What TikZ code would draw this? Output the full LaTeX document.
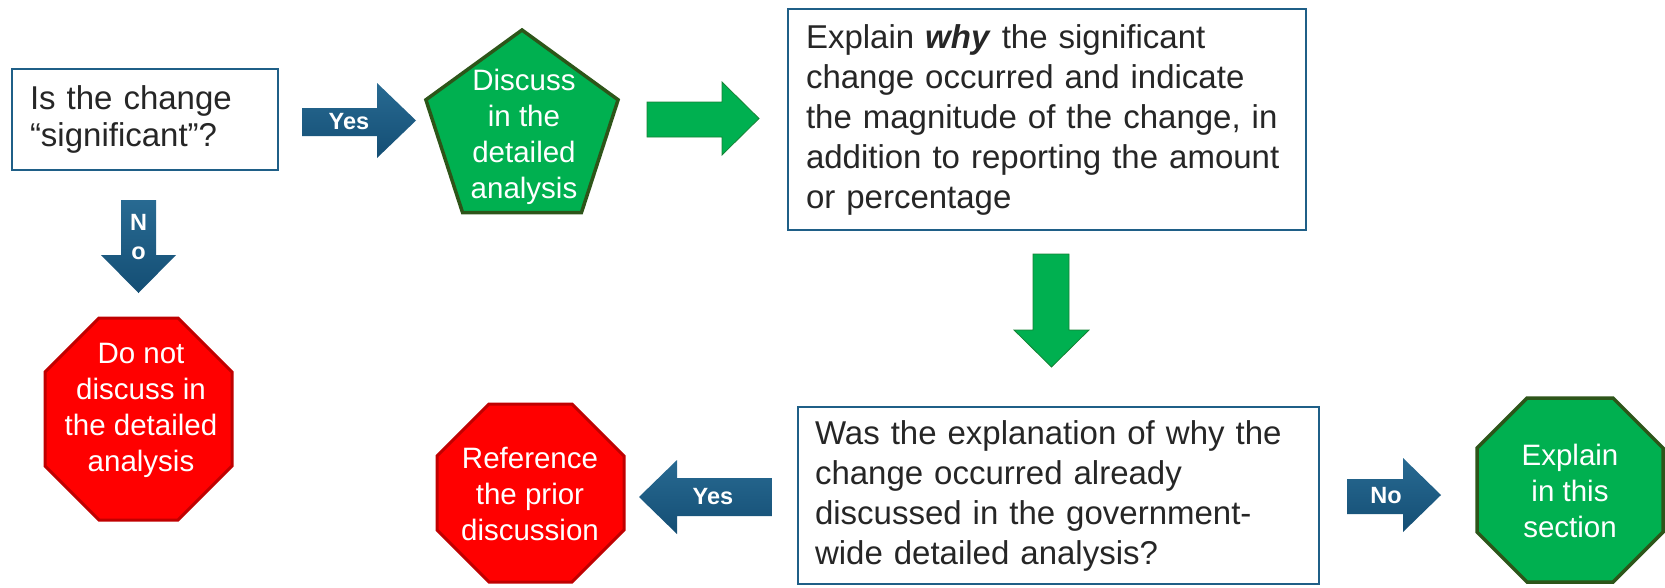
\documentclass[tikz,border=0pt]{standalone}
\usepackage{fontspec}
\setmainfont{Liberation Sans}
\definecolor{boxblue}{RGB}{31,95,135}
\definecolor{txt}{RGB}{38,38,38}
\definecolor{bluetop}{RGB}{40,106,146}
\definecolor{bluebot}{RGB}{20,78,116}
\definecolor{grfill}{RGB}{0,176,80}
\definecolor{grborder}{RGB}{45,85,25}
\definecolor{redfill}{RGB}{255,0,0}
\definecolor{redborder}{RGB}{192,0,0}
\newcommand{\myoct}[6]{\path[#6] ({#1-#3+#5},{#2-#4}) -- ({#1+#3-#5},{#2-#4}) -- ({#1+#3},{#2-#4+#5}) -- ({#1+#3},{#2+#4-#5}) -- ({#1+#3-#5},{#2+#4}) -- ({#1-#3+#5},{#2+#4}) -- ({#1-#3},{#2+#4-#5}) -- ({#1-#3},{#2-#4+#5}) -- cycle;}
\begin{document}
\begin{tikzpicture}[x=1pt,y=-1pt,
  qbox/.style={draw=boxblue, line width=2.6pt, fill=white, text=txt, align=left, inner ysep=0pt, font=\fontsize{33}{40}\selectfont},
  shapetxt/.style={text=white, align=center, font=\fontsize{29.5}{36}\selectfont, inner sep=0pt},
  lbl/.style={text=white, font=\bfseries\fontsize{23.5}{28}\selectfont, inner sep=0pt},
  blueshade/.style={top color=bluetop, bottom color=bluebot, draw=none},
  greenarrow/.style={fill=grfill, draw=grborder!50!grfill, line width=0.8pt},
  redoct/.style={fill=redfill, draw=redborder, line width=3pt},
  greenshape/.style={fill=grfill, draw=grborder, line width=3.5pt}]
\useasboundingbox (0,0) rectangle (1665,587);

% question boxes
\node[qbox, minimum width=266pt, minimum height=101pt, text width=230pt, inner xsep=18pt,
      font=\fontsize{33}{37}\selectfont] (q1) at (145,119.5) {Is the change\\“significant”?};
\node[qbox, minimum width=518pt, minimum height=221pt, text width=482pt, inner xsep=18pt] (q2) at (1047,119.5)
  {Explain \textbf{\textit{why}} the significant\\change occurred and indicate\\the magnitude of the change, in\\addition to reporting the amount\\or percentage};
\node[qbox, minimum width=521pt, minimum height=177pt, text width=487pt, inner xsep=17pt] (q3) at (1058.5,495.5)
  {Was the explanation of why the\\change occurred already\\discussed in the government-\\wide detailed analysis?};

% pentagon
\path[greenshape, line join=miter] (522,30) -- (618.1,99.8) -- (581.4,212.7) -- (462.6,212.7) -- (425.9,99.8) -- cycle;
\node[shapetxt] (pent) at (524,137) {Discuss\\in the\\detailed\\analysis};

% octagons
\myoct{138.5}{419}{93.5}{101}{54}{redoct}
\node[shapetxt] (stop1) at (141,410) {Do not\\discuss in\\the detailed\\analysis};
\myoct{530.5}{493}{93.5}{89}{52}{redoct}
\node[shapetxt] (stop2) at (530,494) {Reference\\the prior\\discussion};
\myoct{1570}{490}{93}{92}{50}{greenshape}
\node[shapetxt] (go) at (1570,491) {Explain\\in this\\section};

% block arrows
\path[blueshade] (302,108) -- (377,108) -- (377,83) -- (416,120.5) -- (377,158) -- (377,136) -- (302,136) -- cycle;
\node[lbl] (yes1) at (349,122) {Yes};

\path[blueshade] (121,200) -- (156,200) -- (156,255) -- (176,255) -- (138.5,293) -- (101,255) -- (121,255) -- cycle;
\node[lbl] (no1a) at (138.5,222) {N};
\node[lbl] (no1b) at (138.5,253) {o};

\path[greenarrow] (647,102) -- (722,102) -- (722,82) -- (759,118.5) -- (722,155) -- (722,137) -- (647,137) -- cycle;

\path[greenarrow] (1033,254) -- (1069,254) -- (1069,330) -- (1089,330) -- (1051.5,367) -- (1014,330) -- (1033,330) -- cycle;

\path[blueshade] (772,478) -- (677,478) -- (677,460) -- (639,497) -- (677,534) -- (677,516) -- (772,516) -- cycle;
\node[lbl] (yes2) at (713,497) {Yes};

\path[blueshade] (1347,479) -- (1403,479) -- (1403,458) -- (1441,495) -- (1403,532) -- (1403,514) -- (1347,514) -- cycle;
\node[lbl] (no2) at (1386,496) {No};
\end{tikzpicture}
\end{document}
